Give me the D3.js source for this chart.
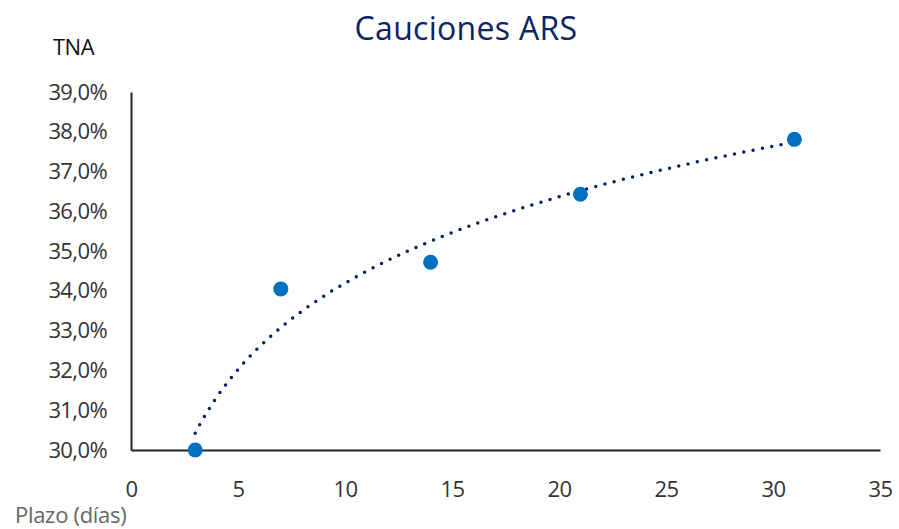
<html>
<head>
<script src="https://cdnjs.cloudflare.com/ajax/libs/d3/7.8.5/d3.min.js"></script>
<style>
  body { margin: 0; background: #fff; }
  svg { font-family: "Open Sans", "Noto Sans", sans-serif; }
  .tick text { fill: #333; font-size: 22px; letter-spacing: -0.6px; }
</style>
</head>
<body>
<script type="text/javascript">
// data
var plazos = [3, 7, 14, 21, 31];
var tasas = [30.0, 34.05, 34.72, 36.43, 37.81];
var xTicks = [0, 5, 10, 15, 20, 25, 30, 35];
var yTicks = [30, 31, 32, 33, 34, 35, 36, 37, 38, 39];

renderChart();

function renderChart() {
    var width = 899, height = 529;
    var plotLeft = 131, plotRight = 880, plotTop = 92, plotBottom = 450;

    var svg = d3.select("body").append("svg")
        .attr("width", width)
        .attr("height", height);

    var x = d3.scaleLinear().domain([0, 35]).range([plotLeft, plotRight]);
    var y = d3.scaleLinear().domain([30, 39]).range([plotBottom, plotTop]);

    // logarithmic trendline (least squares on ln(x))
    var lx = plazos.map(Math.log);
    var mx = d3.mean(lx), my = d3.mean(tasas);
    var sxy = d3.sum(lx, (v, i) => (v - mx) * (tasas[i] - my));
    var sxx = d3.sum(lx, v => (v - mx) * (v - mx));
    var b = sxy / sxx, a = my - b * mx;
    var trend = d3.range(3, 31.01, 0.25).map(d => [d, a + b * Math.log(d)]);

    // axes
    var xAxis = svg.append("g")
        .attr("transform", "translate(0," + plotBottom + ")")
        .call(d3.axisBottom(x).tickValues(xTicks).tickSize(0));
    xAxis.select(".domain").attr("stroke", "#222").attr("stroke-width", 2);
    xAxis.selectAll(".tick text").attr("y", 47).attr("dy", 0);

    var yAxis = svg.append("g")
        .attr("transform", "translate(" + plotLeft + ",0)")
        .call(d3.axisLeft(y).tickValues(yTicks).tickSize(0).tickPadding(24)
            .tickFormat(d => d3.format(".1f")(d).replace(".", ",") + "%"));
    yAxis.select(".domain").attr("stroke", "#222").attr("stroke-width", 2);

    svg.selectAll("g").attr("font-family", null).attr("font-size", null);

    // trendline
    svg.append("path")
        .datum(trend)
        .attr("fill", "none")
        .attr("stroke", "#002060")
        .attr("stroke-width", 3.5)
        .attr("stroke-linecap", "round")
        .attr("stroke-dasharray", "0 9.5")
        .attr("d", d3.line().x(d => x(d[0])).y(d => y(d[1])));

    // points
    svg.selectAll("circle.pt")
        .data(plazos)
        .enter().append("circle")
        .attr("class", "pt")
        .attr("cx", d => x(d))
        .attr("cy", (d, i) => y(tasas[i]))
        .attr("r", 7.5)
        .attr("fill", "#0070c0");

    // titles
    svg.append("text")
        .attr("x", 466).attr("y", 40)
        .attr("text-anchor", "middle")
        .attr("fill", "#0b2463")
        .attr("font-size", 32)
        .attr("letter-spacing", 0.3)
        .text("Cauciones ARS");

    svg.append("text")
        .attr("x", 53).attr("y", 55)
        .attr("fill", "#111")
        .attr("font-size", 22)
        .attr("letter-spacing", -0.5)
        .text("TNA");

    svg.append("text")
        .attr("x", 15).attr("y", 523)
        .attr("fill", "#666")
        .attr("font-size", 22)
        .attr("letter-spacing", -0.3)
        .text("Plazo (días)");
}
</script>
</body>
</html>
